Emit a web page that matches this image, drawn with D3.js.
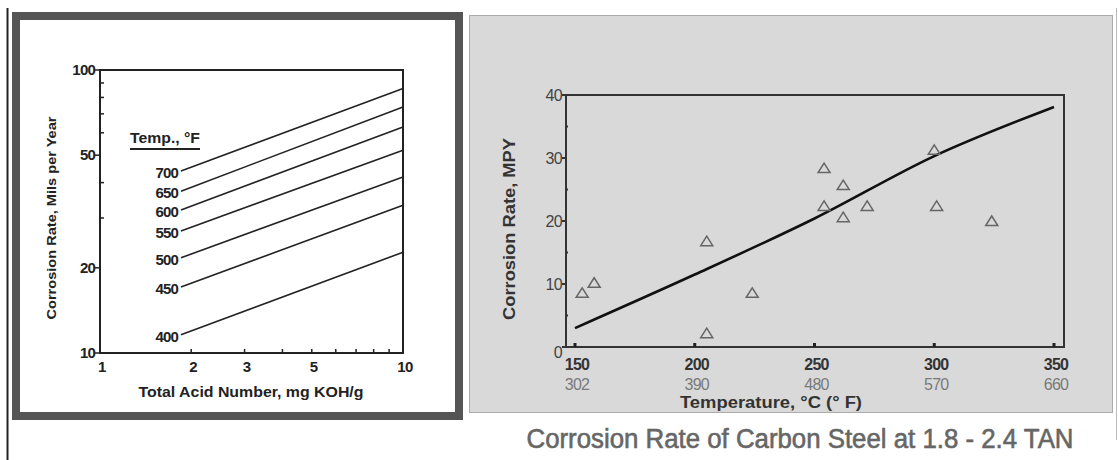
<!DOCTYPE html>
<html>
<head>
<meta charset="utf-8">
<script src="https://cdn.jsdelivr.net/npm/d3@7"></script>
<style>
  body { margin: 0; background: #fff; }
  svg { display: block; font-family: "Liberation Sans", Arial, sans-serif; }
</style>
</head>
<body>
<svg id="chart" width="1118" height="460"></svg>
<script>
// ---- left chart: corrosion rate vs TAN, log-log, one line per temperature
var tanTicks = [1, 2, 3, 5, 10];
var tanMinor = [4, 6, 7, 8, 9];
var mpyTicks = [10, 20, 50, 100];
var mpyMinor = [30, 40, 60, 70, 80, 90];
var tempF = ["400", "450", "500", "550", "600", "650", "700"];
var tanStart = 1.85, tanEnd = 10;
var rateStart = [11.6, 17.1, 21.7, 27.0, 32.0, 37.3, 44.0];
var rateEnd = [22.7, 33.3, 41.9, 52.0, 62.9, 74.0, 86.0];

// ---- right chart: corrosion rate vs temperature at 1.8 - 2.4 TAN
var tempC = [150, 200, 250, 300, 350];
var tempFLabels = ["302", "390", "480", "570", "660"];
var mpyLinTicks = [0, 10, 20, 30, 40];
var mpyLinMinor = [5, 15, 25, 35];
var fitC = [150, 200, 250, 300, 350];
var fitRate = [3.0, 11.5, 20.4, 30.3, 38.1];
var obsC = [153, 158, 205, 205, 224, 254, 262, 254, 262, 272, 300, 301, 324];
var obsRate = [8.6, 10.2, 16.8, 2.2, 8.6, 28.4, 25.7, 22.4, 20.6, 22.4, 31.3, 22.4, 20.0];

var svg = d3.select("#chart");

// page edges
svg.append("line").attr("x1", 7.5).attr("x2", 7.5).attr("y1", 8).attr("y2", 460)
    .attr("stroke", "#222").attr("stroke-width", 2);
svg.append("line").attr("x1", 1116.5).attr("x2", 1116.5).attr("y1", 8).attr("y2", 440)
    .attr("stroke", "#bbb").attr("stroke-width", 1);

// left frame
svg.append("rect").attr("x", 16).attr("y", 16).attr("width", 443).attr("height", 400)
    .attr("fill", "#fff").attr("stroke", "#555").attr("stroke-width", 8);

var L = {left: 100, right: 403, top: 70, bottom: 353};
var lx = d3.scaleLog().domain([1, 10]).range([L.left, L.right]);
var ly = d3.scaleLog().domain([10, 100]).range([L.bottom, L.top]);
var gl = svg.append("g");

gl.append("rect").attr("x", L.left).attr("y", L.top)
    .attr("width", L.right - L.left).attr("height", L.bottom - L.top)
    .attr("fill", "none").attr("stroke", "#222").attr("stroke-width", 2);

// major y ticks (outside) and minor (inside)
gl.selectAll(".ymaj").data(mpyTicks).enter().append("line")
    .attr("x1", L.left - 5).attr("x2", L.left)
    .attr("y1", function(d){ return ly(d); }).attr("y2", function(d){ return ly(d); })
    .attr("stroke", "#222").attr("stroke-width", 1.5);
gl.selectAll(".ymin").data(mpyMinor).enter().append("line")
    .attr("x1", L.left).attr("x2", L.left + 4)
    .attr("y1", function(d){ return ly(d); }).attr("y2", function(d){ return ly(d); })
    .attr("stroke", "#222").attr("stroke-width", 1.5);
gl.selectAll(".ylab").data(mpyTicks).enter().append("text")
    .attr("x", L.left - 5).attr("y", function(d){ return ly(d) + 5; })
    .attr("text-anchor", "end").attr("font-size", 15).attr("font-weight", "bold")
    .attr("fill", "#222").attr("letter-spacing", -0.8).text(function(d){ return d; });

gl.selectAll(".xmin").data(tanTicks.slice(1, 4).concat(tanMinor)).enter().append("line")
    .attr("x1", function(d){ return lx(d); }).attr("x2", function(d){ return lx(d); })
    .attr("y1", L.bottom - 4).attr("y2", L.bottom)
    .attr("stroke", "#222").attr("stroke-width", 1.5);
gl.selectAll(".xlab").data(tanTicks).enter().append("text")
    .attr("x", function(d){ return lx(d) + 2; }).attr("y", L.bottom + 19)
    .attr("text-anchor", "middle").attr("font-size", 15).attr("font-weight", "bold")
    .attr("fill", "#222").attr("letter-spacing", -0.5).text(function(d){ return d; });

gl.append("text").attr("x", 251).attr("y", 397).attr("text-anchor", "middle")
    .attr("font-size", 14).attr("font-weight", "bold").attr("fill", "#222")
    .attr("textLength", 225).attr("lengthAdjust", "spacingAndGlyphs")
    .text("Total Acid Number, mg KOH/g");
gl.append("text").attr("transform", "translate(56,218) rotate(-90)")
    .attr("text-anchor", "middle").attr("font-size", 13).attr("font-weight", "bold")
    .attr("fill", "#222").attr("textLength", 203).attr("lengthAdjust", "spacingAndGlyphs")
    .text("Corrosion Rate, Mils per Year");

// temperature lines
gl.selectAll(".tline").data(tempF).enter().append("line")
    .attr("x1", lx(tanStart)).attr("x2", lx(tanEnd))
    .attr("y1", function(d, i){ return ly(rateStart[i]); })
    .attr("y2", function(d, i){ return ly(rateEnd[i]); })
    .attr("stroke", "#222").attr("stroke-width", 1.6);
gl.selectAll(".tlab").data(tempF).enter().append("text")
    .attr("x", lx(tanStart) - 3).attr("y", function(d, i){ return ly(rateStart[i]) + 7; })
    .attr("text-anchor", "end").attr("font-size", 15).attr("fill", "#222")
    .attr("font-weight", "bold").attr("letter-spacing", -0.9).text(function(d){ return d; });
gl.append("text").attr("x", 130).attr("y", 143).attr("font-size", 14)
    .attr("font-weight", "bold").attr("fill", "#222")
    .attr("textLength", 70).attr("lengthAdjust", "spacingAndGlyphs").text("Temp., °F");
gl.append("line").attr("x1", 130).attr("x2", 200).attr("y1", 149).attr("y2", 149)
    .attr("stroke", "#222").attr("stroke-width", 2);

// right panel
svg.append("rect").attr("x", 469.5).attr("y", 15.5).attr("width", 643).attr("height", 397)
    .attr("fill", "#d9d9d9").attr("stroke", "#aaa").attr("stroke-width", 1);

var R = {left: 566, right: 1064, top: 95, bottom: 347};
var rx = d3.scaleLinear().domain([150, 350]).range([575, 1054]);
var ry = d3.scaleLinear().domain([0, 40]).range([R.bottom, R.top]);
var gr = svg.append("g");

gr.append("rect").attr("x", R.left).attr("y", R.top)
    .attr("width", R.right - R.left).attr("height", R.bottom - R.top)
    .attr("fill", "none").attr("stroke", "#333").attr("stroke-width", 2);

gr.selectAll(".rymaj").data(mpyLinTicks).enter().append("line")
    .attr("x1", R.left - 4).attr("x2", R.left)
    .attr("y1", function(d){ return ry(d); }).attr("y2", function(d){ return ry(d); })
    .attr("stroke", "#333").attr("stroke-width", 2);
gr.selectAll(".rymin").data(mpyLinMinor).enter().append("line")
    .attr("x1", R.left).attr("x2", R.left + 2)
    .attr("y1", function(d){ return ry(d); }).attr("y2", function(d){ return ry(d); })
    .attr("stroke", "#333").attr("stroke-width", 2);
gr.selectAll(".rylab").data(mpyLinTicks).enter().append("text")
    .attr("x", R.left - 4).attr("y", function(d){ return ry(d) + 6 + (d === 0 ? 5 : 0); })
    .attr("text-anchor", "end").attr("font-size", 16).attr("fill", "#444")
    .attr("letter-spacing", -0.6).text(function(d){ return d; });

gr.selectAll(".rxtick").data(tempC).enter().append("line")
    .attr("x1", function(d){ return rx(d); }).attr("x2", function(d){ return rx(d); })
    .attr("y1", R.bottom - 4).attr("y2", R.bottom)
    .attr("stroke", "#222").attr("stroke-width", 3);
gr.selectAll(".rxlab").data(tempC).enter().append("text")
    .attr("x", function(d){ return rx(d) + 2; }).attr("y", 370)
    .attr("text-anchor", "middle").attr("font-size", 16).attr("font-weight", "bold")
    .attr("fill", "#333").attr("letter-spacing", -0.8).text(function(d){ return d; });
gr.selectAll(".rxflab").data(tempFLabels).enter().append("text")
    .attr("x", function(d, i){ return rx(tempC[i]) + 2; }).attr("y", 390)
    .attr("text-anchor", "middle").attr("font-size", 16)
    .attr("fill", "#7a7a7a").attr("letter-spacing", -0.8).text(function(d){ return d; });

gr.append("text").attr("x", 771).attr("y", 408).attr("text-anchor", "middle")
    .attr("font-size", 16).attr("font-weight", "bold").attr("fill", "#333")
    .attr("textLength", 182).attr("lengthAdjust", "spacingAndGlyphs")
    .text("Temperature, °C (° F)");
gr.append("text").attr("transform", "translate(515,229) rotate(-90)")
    .attr("text-anchor", "middle").attr("font-size", 16).attr("font-weight", "bold")
    .attr("fill", "#333").attr("textLength", 182).attr("lengthAdjust", "spacingAndGlyphs")
    .text("Corrosion Rate, MPY");

// fitted curve
var fit = fitC.map(function(c, i){ return [c, fitRate[i]]; });
gr.append("path").datum(fit)
    .attr("d", d3.line().x(function(d){ return rx(d[0]); }).y(function(d){ return ry(d[1]); })
        .curve(d3.curveMonotoneX))
    .attr("fill", "none").attr("stroke", "#111").attr("stroke-width", 2.6);

// observed points
var obs = obsC.map(function(c, i){ return [c, obsRate[i]]; });
gr.selectAll(".pt").data(obs).enter().append("path")
    .attr("transform", function(d){ return "translate(" + rx(d[0]) + "," + ry(d[1]) + ")"; })
    .attr("d", "M0,-5L6,4.5L-6,4.5Z")
    .attr("fill", "none").attr("stroke", "#666").attr("stroke-width", 1.5);

// caption
svg.append("text").attr("x", 800).attr("y", 448).attr("text-anchor", "middle")
    .attr("font-size", 27).attr("fill", "#666").attr("stroke", "#666").attr("stroke-width", 0.6)
    .attr("textLength", 547).attr("lengthAdjust", "spacingAndGlyphs")
    .text("Corrosion Rate of Carbon Steel at 1.8 - 2.4 TAN");
</script>
</body>
</html>
